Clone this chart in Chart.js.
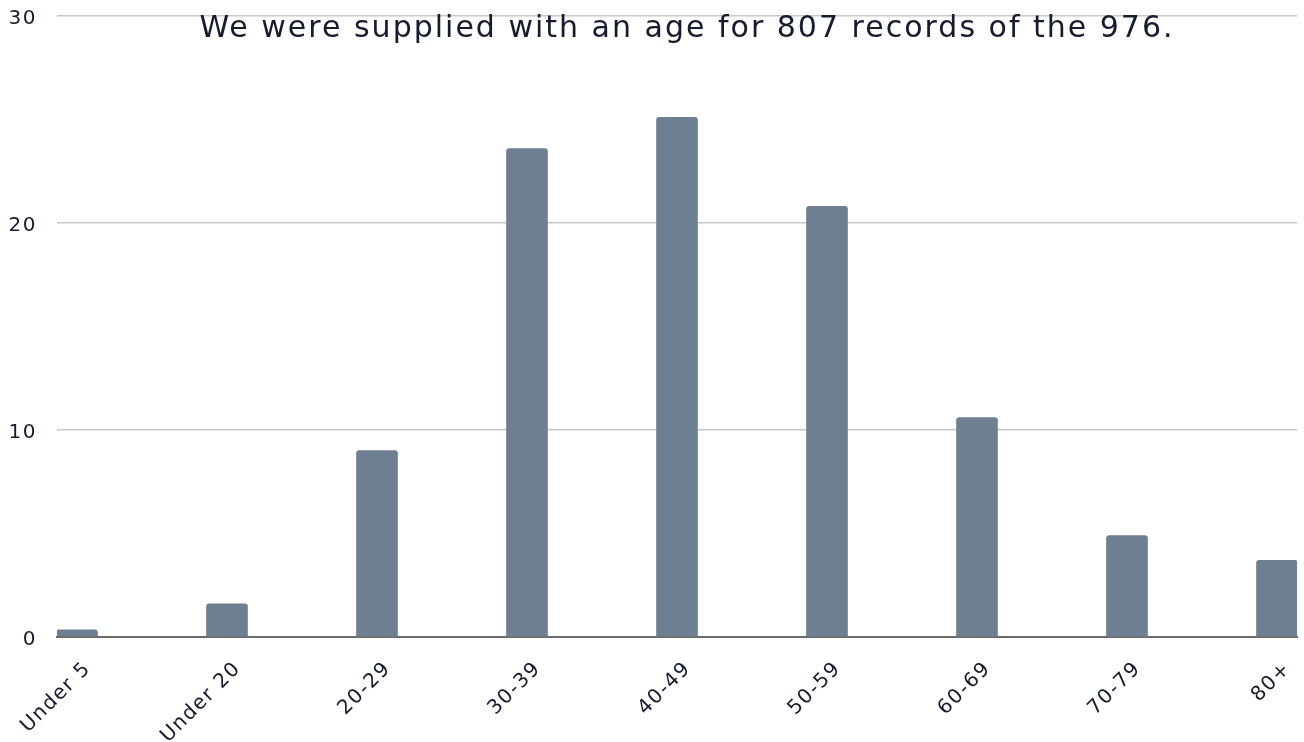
<!DOCTYPE html>
<html>
<head>
<meta charset="utf-8">
<script src="https://cdn.jsdelivr.net/npm/chart.js@4"></script>
<style>
  html, body { margin: 0; padding: 0; background: #fff; }
  #wrap { width: 1304px; height: 742px; position: relative; }
</style>
</head>
<body>
<div id="wrap"><canvas id="ageChart"></canvas></div>
<script>
// age bands and share of the 807 records with an age (%)
const ageBands = ['Under 5', 'Under 20', '20-29', '30-39', '40-49', '50-59', '60-69', '70-79', '80+'];
const sharePct = [0.35, 1.6, 9.0, 23.6, 25.1, 20.8, 10.6, 4.9, 3.7];
const yTicks = [0, 10, 20, 30];
const chartTitle = 'We were supplied with an age for 807 records of the 976.';

const FONT = '"DejaVu Sans", sans-serif';
const INK = '#161b2e';

// the reference font is wider than anything installed, so space letters out a bit
const spacing = {
    id: 'spacing',
    beforeLayout(chart) { chart.ctx.letterSpacing = '1.5px'; },
    beforeDraw(chart) { chart.ctx.letterSpacing = '1.5px'; }
};

// title sits over the top of the plot, so draw it ourselves
const titleOverlay = {
    id: 'titleOverlay',
    afterDraw(chart) {
        const ctx = chart.ctx;
        ctx.save();
        ctx.letterSpacing = '2px';
        ctx.font = '30px ' + FONT;
        ctx.fillStyle = INK;
        ctx.textAlign = 'center';
        ctx.textBaseline = 'alphabetic';
        ctx.fillText(chartTitle, 687, 37);
        ctx.restore();
    }
};

const ctx = document.getElementById('ageChart').getContext('2d');
const ageChart = new Chart(ctx, {
    type: 'bar',
    data: {
        datasets: [{
            data: sharePct.map((v, i) => ({ x: i, y: v })),
            backgroundColor: '#6e7f91',
            borderRadius: 3,
            borderSkipped: 'bottom',
            barThickness: 41
        }]
    },
    options: {
        responsive: true,
        maintainAspectRatio: false,
        animation: false,
        layout: { padding: { top: 16, right: 7, left: 0, bottom: 0 } },
        plugins: {
            legend: { display: false },
            tooltip: { enabled: false }
        },
        scales: {
            x: {
                type: 'linear',
                offset: false,
                min: -20 / 150,
                max: 8 + 20 / 150,
                grid: { display: false },
                border: { display: true, color: '#6b6b6b', width: 2 },
                afterFit: (scale) => { scale.height = 105; scale.paddingLeft = 0; scale.paddingRight = 0; },
                ticks: {
                    stepSize: 1,
                    includeBounds: false,
                    autoSkip: false,
                    minRotation: 45,
                    maxRotation: 45,
                    color: INK,
                    font: { family: FONT, size: 20 },
                    padding: 12,
                    labelOffset: 11,
                    callback: (v) => ageBands[v]
                }
            },
            y: {
                min: 0,
                max: 30,
                afterBuildTicks: (scale) => { scale.ticks = yTicks.map(v => ({ value: v })); },
                afterFit: (scale) => { scale.width = 57; scale.paddingTop = 0; },
                grid: { color: '#c8c8c8', lineWidth: 1.5, drawTicks: false },
                border: { display: false },
                ticks: {
                    color: INK,
                    font: { family: FONT, size: 20 },
                    padding: 20,
                    labelOffset: 3
                }
            }
        }
    },
    plugins: [spacing, titleOverlay]
});
</script>
</body>
</html>
